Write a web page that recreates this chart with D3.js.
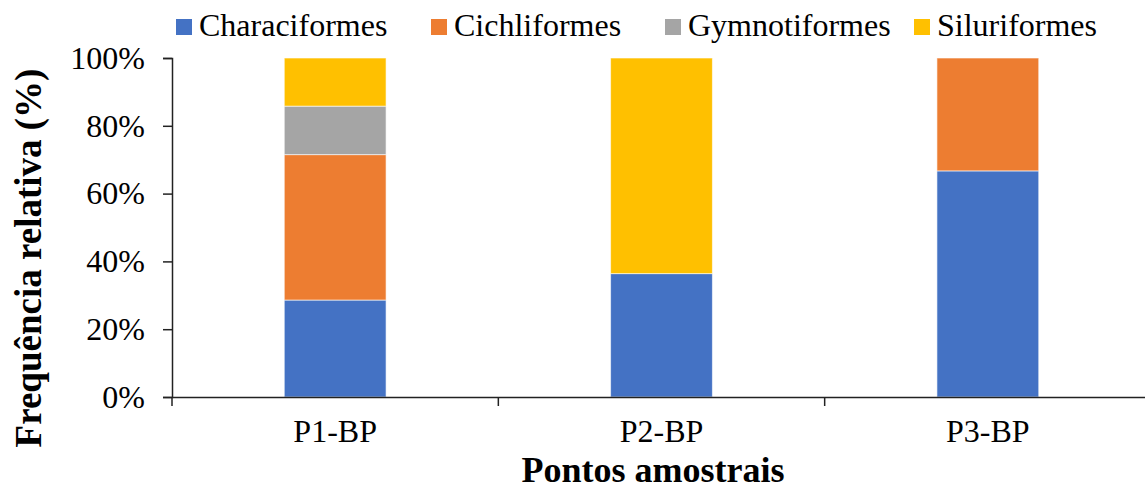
<!DOCTYPE html>
<html><head><meta charset="utf-8">
<script src="https://cdn.jsdelivr.net/npm/d3@7"></script>
<style>
html,body{margin:0;padding:0;background:#fff;}
svg, svg text{font-family:"Liberation Serif","Times New Roman","DejaVu Serif",serif !important;}
svg{display:block;}
</style></head>
<body>
<svg id="chart" width="1145" height="490"></svg>
<script>
const categories = ["P1-BP", "P2-BP", "P3-BP"];
const seriesNames = ["Characiformes", "Cichliformes", "Gymnotiformes", "Siluriformes"];
const characiformes = [28.6, 36.4, 66.7];
const cichliformes  = [42.9, 0, 33.3];
const gymnotiformes = [14.3, 0, 0];
const siluriformes  = [14.2, 63.6, 0];
const yTicks = [0, 20, 40, 60, 80, 100];
const colors = ["#4472C4", "#ED7D31", "#A5A5A5", "#FFC000"];

(function () {
const seriesValues = [characiformes, cichliformes, gymnotiformes, siluriformes];
const table = categories.map((c, i) => {
  const row = {cat: c};
  seriesNames.forEach((s, j) => row[s] = seriesValues[j][i]);
  return row;
});
const stacked = d3.stack().keys(seriesNames)(table);

const svg = d3.select("#chart");
const mLeft = 172, mRight = 1151, mTop = 58, mBottom = 397;

const x = d3.scaleBand().domain(categories).range([mLeft, mRight]).paddingInner(0).paddingOuter(0);
const y = d3.scaleLinear().domain([0, 100]).range([mBottom, mTop]);
const color = d3.scaleOrdinal().domain(seriesNames).range(colors);

const barW = x.bandwidth() * 0.312;

svg.append("g").selectAll("g").data(stacked).join("g")
  .attr("fill", d => color(d.key))
  .selectAll("rect").data(d => d.filter(p => p[1] - p[0] > 0)).join("rect")
  .attr("x", d => x(d.data.cat) + x.bandwidth() / 2 - barW / 2)
  .attr("width", barW)
  .attr("y", d => y(d[1]))
  .attr("height", d => y(d[0]) - y(d[1]))
  .attr("stroke", "#ffffff")
  .attr("stroke-opacity", 0.6)
  .attr("stroke-width", 1);

// Y axis
const yAxis = d3.axisLeft(y).tickValues(yTicks).tickFormat(d => d + "%").tickSize(9).tickPadding(18);
const gy = svg.append("g").attr("transform", `translate(${mLeft},0)`).call(yAxis);
gy.attr("font-family", null);
gy.select(".domain").attr("stroke", "#222").attr("stroke-width", 1.5);
gy.selectAll(".tick line").attr("stroke", "#222").attr("stroke-width", 1.5);
gy.selectAll("text").attr("font-size", 32).attr("fill", "#000");

// X axis
const xAxis = d3.axisBottom(x).tickSize(0).tickPadding(22);
const gx = svg.append("g").attr("transform", `translate(0,${mBottom})`).call(xAxis);
gx.attr("font-family", null);
gx.select(".domain").attr("stroke", "#222").attr("stroke-width", 1.5);
gx.selectAll("text").attr("font-size", 32).attr("fill", "#000");
const bounds = categories.map(c => x(c)).concat([x(categories[categories.length - 1]) + x.bandwidth()]);
gx.selectAll("line.bound").data(bounds).join("line").attr("class", "bound")
  .attr("x1", d => d).attr("x2", d => d).attr("y1", 0).attr("y2", 9)
  .attr("stroke", "#222").attr("stroke-width", 1.5);

// Axis titles
svg.append("text").attr("x", 653).attr("y", 482).attr("text-anchor", "middle")
  .attr("font-size", 36).attr("font-weight", "bold").text("Pontos amostrais");
svg.append("text").attr("transform", "translate(41,258) rotate(-90)").attr("text-anchor", "middle")
  .attr("font-size", 37).attr("font-weight", "bold").text("Frequência relativa (%)");

// Legend
const legendX = [176, 431, 665, 914];
const leg = svg.append("g");
seriesNames.forEach((s, i) => {
  const g = leg.append("g").attr("transform", `translate(${legendX[i]},0)`);
  g.append("rect").attr("x", 0).attr("y", 19).attr("width", 16).attr("height", 16).attr("fill", colors[i]);
  g.append("text").attr("x", 23).attr("y", 36).attr("font-size", 32).attr("fill", "#000").text(s);
});
})();
</script>
</body></html>
